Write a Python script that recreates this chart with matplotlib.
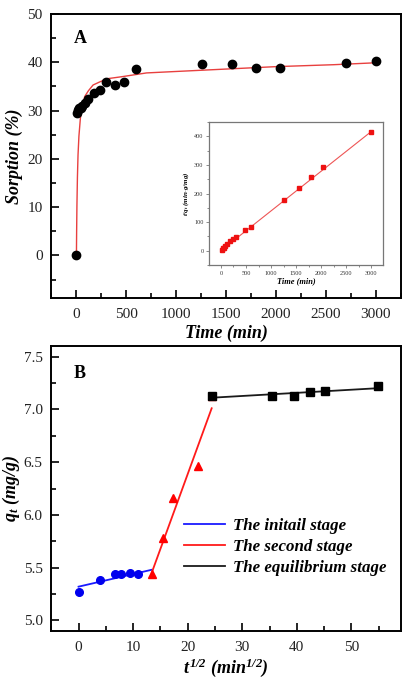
import matplotlib
matplotlib.use("Agg")
import matplotlib.pyplot as plt
from matplotlib.ticker import MultipleLocator, FormatStrFormatter

plt.rcParams['font.family'] = ['Liberation Serif', 'DejaVu Serif']
plt.rcParams['mathtext.fontset'] = 'custom'
plt.rcParams['mathtext.it'] = 'Liberation Serif:italic:bold'
plt.rcParams['mathtext.rm'] = 'Liberation Serif:italic:bold'
plt.rcParams['mathtext.bf'] = 'Liberation Serif:italic:bold'

# ---------------- Panel A data ----------------
time_a = [0, 5, 15, 30, 45, 60, 90, 120, 180, 240, 300, 390, 480, 600,
          1260, 1560, 1800, 2040, 2700, 3000]
sorption_a = [0, 29.4, 30.2, 30.5, 30.5, 30.9, 31.5, 32.4, 33.6, 34.2, 36.0,
              35.2, 36.0, 38.7, 39.7, 39.7, 38.8, 38.8, 39.9, 40.2]
# fitted curve
fit_t_a = [0, 2, 5, 10, 16, 25, 40, 60, 83, 120, 167, 230, 308, 450, 703,
           1000, 1500, 2000, 2577, 3000]
fit_q_a = [0, 4.9, 10.3, 16.2, 20.8, 24.7, 28.5, 31.0, 32.9, 34.1, 35.3,
           35.9, 36.6, 37.0, 37.8, 38.1, 38.6, 39.1, 39.5, 39.9]

# inset: t/qt vs time
inset_t = [15, 45, 60, 90, 120, 180, 240, 300, 480, 600, 1260, 1560, 1800, 2040, 3000]
inset_tq = [2.8, 8.3, 11, 16.5, 22, 33, 41.5, 48.7, 74, 84, 177, 220, 259, 293, 416]
inset_fit_t = [0, 3000]
inset_fit_tq = [0.5, 416]

# ---------------- Panel B data ----------------
x_init = [0, 3.87, 6.7, 7.75, 9.49, 10.95]
y_init = [5.27, 5.38, 5.44, 5.44, 5.45, 5.44]
x_second = [13.4, 15.5, 17.3, 21.9, 24.5]
y_second = [5.44, 5.78, 6.16, 6.46, 7.13]
x_eq = [24.5, 35.5, 39.5, 42.4, 45.2, 54.8]
y_eq = [7.13, 7.13, 7.13, 7.165, 7.17, 7.22]
fit_init_x = [0, 13.4]
fit_init_y = [5.32, 5.48]
fit_second_x = [13.4, 24.4]
fit_second_y = [5.45, 7.01]
fit_eq_x = [24.4, 54.8]
fit_eq_y = [7.11, 7.20]
legend_labels = ['The initail stage', 'The second stage', 'The equilibrium stage']

W, H = 408, 684
fig = plt.figure(figsize=(W / 100, H / 100), dpi=100)

def ax_rect(l, t, r, b):
    return [l / W, 1 - b / H, (r - l) / W, (b - t) / H]

tick_color = '#222222'

def style_axes(ax, fs=11):
    for s in ax.spines.values():
        s.set_linewidth(1.4)
    ax.tick_params(which='both', direction='in', top=False, right=False,
                   labelsize=fs, colors='black', labelcolor=tick_color, width=1.2)
    ax.tick_params(axis='x', which='major', length=6, pad=7)
    ax.tick_params(axis='y', which='major', length=6, pad=6)
    ax.tick_params(which='minor', length=3.5)

lab_font = dict(fontsize=13, fontweight='bold', fontstyle='italic')

# ---------------- Panel A ----------------
axA = fig.add_axes(ax_rect(51, 14, 401, 298))
axA.plot(fit_t_a, fit_q_a, color='#e8403f', lw=1.0, zorder=2)
axA.plot(time_a, sorption_a, 'o', color='black', ms=6, zorder=3)
axA.set_xlim(-255, 3255)
axA.set_ylim(-8.8, 50)
axA.xaxis.set_major_locator(MultipleLocator(500))
axA.xaxis.set_minor_locator(MultipleLocator(250))
axA.yaxis.set_major_locator(MultipleLocator(10))
axA.yaxis.set_minor_locator(MultipleLocator(5))
style_axes(axA)
axA.set_xlabel('Time (min)', labelpad=3, **lab_font)
axA.set_ylabel('Sorption (%)', labelpad=3, **lab_font)
axA.text(0.066, 0.912, 'A', transform=axA.transAxes, fontsize=13,
         fontweight='bold', ha='left', va='center')

# inset
axI = fig.add_axes(ax_rect(209, 122, 383, 265))
axI.plot(inset_fit_t, inset_fit_tq, color='#ee5555', lw=0.8, zorder=2)
axI.plot(inset_t, inset_tq, 's', color='#ee1111', ms=2.4, zorder=3)
axI.set_xlim(-240, 3240)
axI.set_ylim(-50, 450)
axI.xaxis.set_major_locator(MultipleLocator(500))
axI.xaxis.set_minor_locator(MultipleLocator(250))
axI.yaxis.set_major_locator(MultipleLocator(100))
axI.yaxis.set_minor_locator(MultipleLocator(50))
for s in axI.spines.values():
    s.set_linewidth(0.9)
    s.set_color('#777777')
axI.tick_params(which='both', direction='out', labelsize=4.5, colors='#777777',
                labelcolor='#333333', width=0.6, top=False, right=False, pad=1.5)
axI.tick_params(which='major', length=2.5)
axI.tick_params(which='minor', length=1.5)
axI.set_xlabel('Time (min)', fontsize=6, fontweight='bold', fontstyle='italic', labelpad=1.5)
axI.set_ylabel(r'$t/q_t$ (min$\cdot$g/mg)', fontsize=5, fontweight='bold',
               fontstyle='italic', labelpad=2)

# ---------------- Panel B ----------------
axB = fig.add_axes(ax_rect(51, 346, 401, 631))
l1, = axB.plot(fit_init_x, fit_init_y, color='#1a1aff', lw=1.3, zorder=2)
l2, = axB.plot(fit_second_x, fit_second_y, color='#ff1a1a', lw=1.3, zorder=2)
l3, = axB.plot(fit_eq_x, fit_eq_y, color='#1a1a1a', lw=1.3, zorder=2)
axB.plot(x_init, y_init, 'o', color='#0000ee', ms=5.5, zorder=3)
axB.plot(x_second, y_second, '^', color='#ff0000', ms=6, zorder=3)
axB.plot(x_eq, y_eq, 's', color='black', ms=5.5, zorder=4)
axB.set_xlim(-5.05, 59.1)
axB.set_ylim(4.9, 7.6)
axB.xaxis.set_major_locator(MultipleLocator(10))
axB.xaxis.set_minor_locator(MultipleLocator(5))
axB.yaxis.set_major_locator(MultipleLocator(0.5))
axB.yaxis.set_minor_locator(MultipleLocator(0.25))
axB.yaxis.set_major_formatter(FormatStrFormatter('%.1f'))
style_axes(axB)
axB.set_xlabel(r'$t^{1/2}$ (min$^{1/2}$)', labelpad=2, **lab_font)
axB.set_ylabel(r'$q_t$ (mg/g)', labelpad=1, **lab_font)
axB.text(0.066, 0.902, 'B', transform=axB.transAxes, fontsize=13,
         fontweight='bold', ha='left', va='center')
leg = axB.legend([l1, l2, l3], legend_labels, loc='center left',
                 bbox_to_anchor=(0.362, 0.295), frameon=False,
                 prop=dict(family='Liberation Serif', size=12.2, weight='bold', style='italic'),
                 handlelength=2.4, labelspacing=0.28, handletextpad=0.45,
                 borderaxespad=0, borderpad=0.4)

fig.savefig('out.png', dpi=100)
